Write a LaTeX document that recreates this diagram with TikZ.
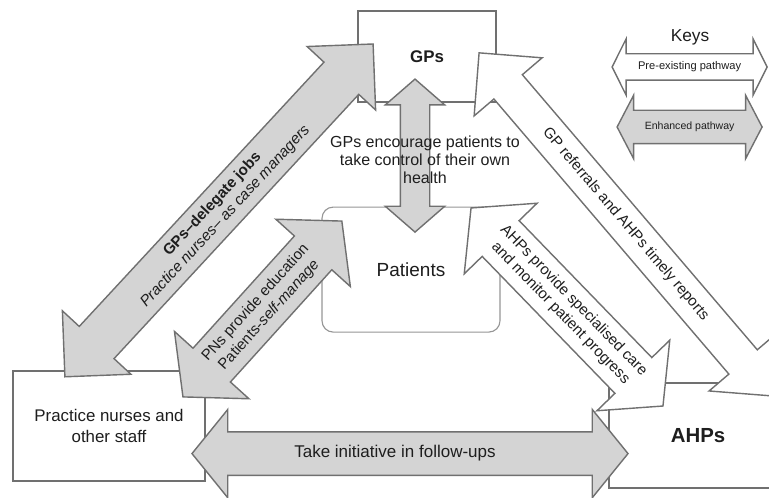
\documentclass[tikz,border=0pt]{standalone}
\usepackage{fontspec}
\setmainfont{Liberation Sans}
\definecolor{edgegray}{RGB}{112, 112, 112}
\definecolor{roundgray}{RGB}{150, 150, 150}
\definecolor{pathgray}{RGB}{212, 212, 212}
\definecolor{inkgray}{RGB}{30, 30, 30}
\usetikzlibrary{shapes.arrows, positioning}

\begin{document}
\begin{tikzpicture}[
    box/.style={draw=edgegray, line width=1pt, fill=white, text=inkgray, align=center},
    pathway/.style={double arrow, draw=edgegray, line width=1pt, inner xsep=0pt},
    enhanced/.style={pathway, fill=pathgray},
    existing/.style={pathway, fill=white},
    pathtext/.style={text=inkgray, align=center, font=\fontsize{10.7}{13}\selectfont}
  ]
  \useasboundingbox (0, 0) rectangle (19.225, 12.45);
  \clip (0, 0) rectangle (19.225, 12.45);

  % The four groups
  \node[box, minimum width=3.45cm, minimum height=2.275cm, font=\bfseries\fontsize{12}{14}\selectfont] (gps) at (10.675, 11.04) {GPs};
  \node[box, draw=roundgray, line width=0.8pt, rounded corners=8pt, minimum width=4.45cm, minimum height=3.125cm, font=\fontsize{13.5}{16}\selectfont] (patients) at (10.275, 5.71) {Patients};
  \node[box, minimum width=4.8cm, minimum height=2.75cm, font=\fontsize{12}{15.5}\selectfont] (nurses) at (2.725, 1.8) {Practice nurses and\\other staff};
  \node[box, minimum width=4.45cm, minimum height=2.625cm, font=\bfseries\fontsize{14.5}{17}\selectfont] (ahps) at (17.45, 1.56) {AHPs};

  % Pathways between them (inner ysep gives half the body width)
  \node[enhanced, rotate=90, minimum height=3.825cm, inner ysep=0.35cm, double arrow head extend=0.375cm, double arrow tip angle=98] (encourage) at (10.375, 8.56) {};
  \node[enhanced, rotate=47.2, minimum height=11.34cm, inner ysep=0.575cm, double arrow head extend=0.575cm, double arrow tip angle=90] (delegate) at (5.475, 7.19) {};
  \node[existing, rotate=-49.5, minimum height=11.28cm, inner ysep=0.45cm, double arrow head extend=0.65cm, double arrow tip angle=90] (referral) at (15.64, 6.84) {};
  \node[enhanced, rotate=47.9, minimum height=5.925cm, inner ysep=0.6125cm, double arrow head extend=0.625cm, double arrow tip angle=99] (education) at (6.56, 4.725) {};
  \node[existing, rotate=-45.9, minimum height=6.895cm, inner ysep=0.625cm, double arrow head extend=0.625cm, double arrow tip angle=100] (care) at (14.175, 4.775) {};
  \node[enhanced, minimum height=10.9cm, inner ysep=0.525cm, double arrow head extend=0.5625cm, double arrow tip angle=102] (followup) at (10.25, 1.11) {};

  % Pathway labels
  \node[pathtext, font=\fontsize{11.4}{12.8}\selectfont, xshift=0.25cm, yshift=-0.1cm] (encouragetext) at (encourage.center) {GPs encourage patients to\\take control of their own\\health};
  \node[pathtext, font=\fontsize{10.8}{12.5}\selectfont, rotate=47.2] (delegatetext) at (delegate.center) {\textbf{GPs–delegate jobs}\\\textit{Practice nurses– as case managers}};
  \node[pathtext, rotate=-49.5] (referraltext) at (referral.center) {GP referrals and AHPs timely reports};
  \node[pathtext, rotate=47.9] (educationtext) at (education.center) {PNs provide education\\Patients-\textit{self-manage}};
  \node[pathtext, rotate=-45.9] (caretext) at (care.center) {AHPs provide specialised care\\and monitor patient progress};
  \node[pathtext, font=\fontsize{12.1}{14}\selectfont, xshift=-0.375cm] (followuptext) at (followup.center) {Take initiative in follow-ups};

  % Keys
  \node[text=inkgray, font=\fontsize{12.3}{14}\selectfont] (keys) at (17.25, 11.525) {Keys};
  \node[existing, minimum height=3.875cm, inner ysep=0.3125cm, double arrow head extend=0.375cm, double arrow tip angle=127] (keyexisting) at (17.24, 10.775) {};
  \node[enhanced, minimum height=3.625cm, inner ysep=0.4cm, double arrow head extend=0.375cm, double arrow tip angle=125] (keyenhanced) at (17.24, 9.275) {};
  \node[pathtext, font=\fontsize{7.9}{9}\selectfont] (keyexistingtext) at (keyexisting.center) {Pre-existing pathway};
  \node[pathtext, font=\fontsize{7.5}{9}\selectfont] (keyenhancedtext) at (keyenhanced.center) {Enhanced pathway};
\end{tikzpicture}
\end{document}
